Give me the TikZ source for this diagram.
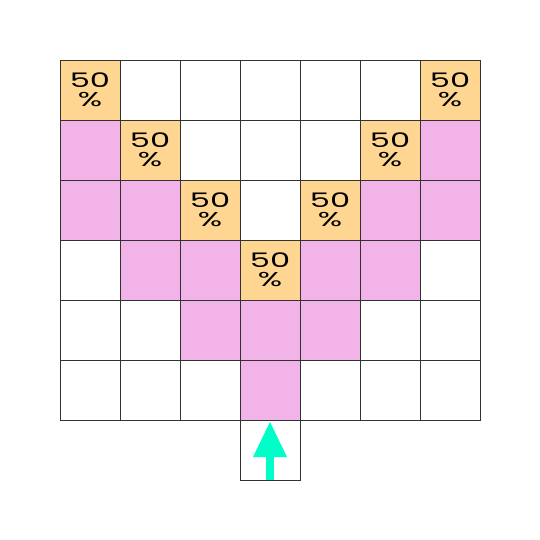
\documentclass[tikz,border=0pt]{standalone}
\usepackage{fontspec}
\setmainfont{Poppins}
\newfontfamily\widefont[FakeStretch=1.6]{Poppins}
\usetikzlibrary{arrows.meta}
\definecolor{peach}{RGB}{255,214,145}
\definecolor{pinkc}{RGB}{241,179,232}
\definecolor{arrowc}{RGB}{0,255,200}
\definecolor{gridc}{RGB}{50,50,50}
\begin{document}
\begin{tikzpicture}[x=1cm,y=1cm,
  cellbox/.style={draw=gridc,line width=0.45pt,minimum size=1cm,inner sep=0pt,anchor=north west,outer sep=0pt},
  half/.style={cellbox,fill=peach,font=\widefont\fontsize{9.5}{9}\selectfont,align=center},
  pk/.style={cellbox,fill=pinkc},
  wt/.style={cellbox,fill=white}]
\useasboundingbox (0,0) rectangle (9,-9);
% white cells
\foreach \c in {0,...,6}{\foreach \r in {0,...,5}{
  \node[wt] (w\c\r) at (1+\c,-1-\r) {};
}}
% pink cells
\foreach \c/\r in {0/1,6/1,0/2,1/2,5/2,6/2,1/3,2/3,4/3,5/3,2/4,3/4,4/4,3/5}{
  \node[pk] (p\c\r) at (1+\c,-1-\r) {};
}
% orange cells
\foreach \c/\r in {0/0,6/0,1/1,5/1,2/2,4/2,3/3}{
  \node[half] (h\c\r) at (1+\c,-1-\r) {50\\\%};
}
% extra cell below
\coordinate (e1) at (4,-7);
\coordinate (e2) at (4,-8);
\coordinate (e3) at (5,-8);
\coordinate (e4) at (5,-7);
\draw[gridc,line width=0.45pt] (e1) -- (e2) -- (e3) -- (e4);
% arrow
\coordinate (a0) at (4.5,-8);
\coordinate (a1) at (4.5,-7.02);
\draw[arrowc,line width=3.8pt,-{Triangle[width=15pt,length=17pt]}] (a0) -- (a1);
\end{tikzpicture}
\end{document}
